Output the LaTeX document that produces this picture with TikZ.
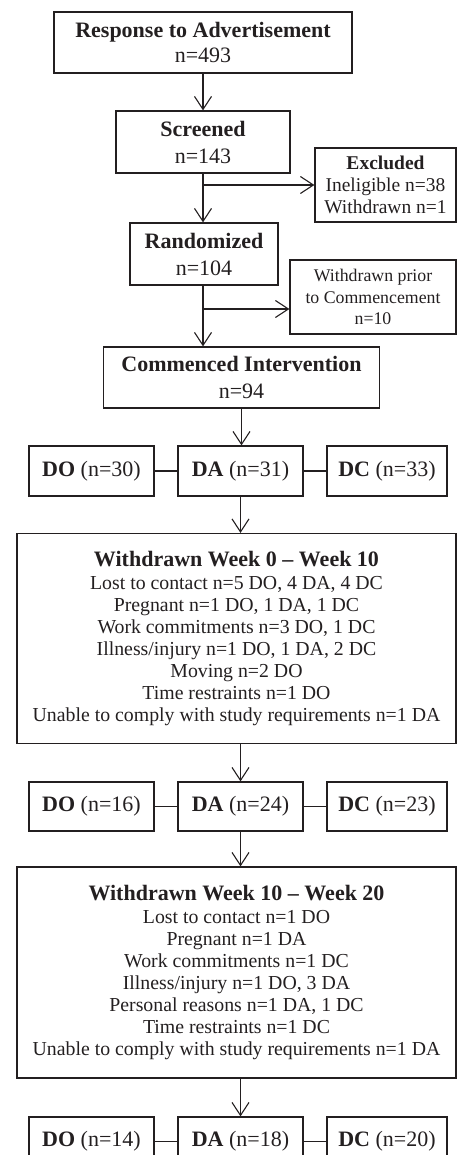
\documentclass[tikz,border=0pt]{standalone}
\usepackage{fontspec}
\setmainfont{Liberation Serif}
\usetikzlibrary{arrows.meta,calc}
\definecolor{ink}{HTML}{231F20}
\begin{document}
\begin{tikzpicture}[x=1pt,y=-1pt,
  every node/.style={text=ink},
  box/.style={draw=ink, line width=1.2pt, inner sep=0pt, align=center},
  mainbox/.style={box, font=\fontsize{22}{27}\selectfont},
  sidebox/.style={box, font=\fontsize{19.5}{22}\selectfont},
  listbox/.style={box, font=\fontsize{19.8}{22}\selectfont},
  arr/.style={draw=ink, line width=1.1pt, -{Straight Barb[length=13pt,width=17pt,line width=1.1pt]}},
  link/.style={draw=ink, line width=1.1pt}]
\useasboundingbox (0,0) rectangle (457,1155);
\clip (0,0) rectangle (457,1155);

\node[mainbox, minimum width=298pt, minimum height=61pt] (resp) at (203,42.5)
  {\textbf{Response to Advertisement}\\[-2pt] n=493};
\node[mainbox, minimum width=174pt, minimum height=62pt] (scr) at (203,142)
  {\textbf{Screened}\\ n=143};
\node[sidebox, minimum width=141pt, minimum height=74pt] (excl) at (385.5,185)
  {\textbf{Excluded}\\ Ineligible n=38\\ Withdrawn n=1};
\node[mainbox, minimum width=148pt, minimum height=62pt] (rand) at (204,254)
  {\textbf{Randomized}\\ n=104};
\node[sidebox, minimum width=166pt, minimum height=74pt, font=\fontsize{17.8}{21.5}\selectfont] (wpr) at (373,297)
  {Withdrawn prior\\ to Commencement\\ n=10};
\node[mainbox, minimum width=276pt, minimum height=61pt] (comm) at (241.5,377.5)
  {\textbf{Commenced Intervention}\\ n=94};

% row 1
\node[mainbox, minimum width=125pt, minimum height=50pt] (do1) at (91.5,471) {\textbf{DO} (n=30)};
\node[mainbox, minimum width=125pt, minimum height=50pt] (da1) at (240.5,471) {\textbf{DA} (n=31)};
\node[mainbox, minimum width=120pt, minimum height=50pt] (dc1) at (387,471) {\textbf{DC} (n=33)};

\node[listbox, minimum width=439pt, minimum height=210pt] (w1) at (236.5,638.5)
  {{\fontsize{22}{24}\selectfont\bfseries Withdrawn Week 0 – Week 10}\\[1pt]
   Lost to contact n=5 DO, 4 DA, 4 DC\\
   Pregnant n=1 DO, 1 DA, 1 DC\\
   Work commitments n=3 DO, 1 DC\\
   Illness/injury n=1 DO, 1 DA, 2 DC\\
   Moving n=2 DO\\
   Time restraints n=1 DO\\
   Unable to comply with study requirements n=1 DA};

% row 2
\node[mainbox, minimum width=125pt, minimum height=49pt] (do2) at (91.5,806.5) {\textbf{DO} (n=16)};
\node[mainbox, minimum width=125pt, minimum height=49pt] (da2) at (240.5,806.5) {\textbf{DA} (n=24)};
\node[mainbox, minimum width=120pt, minimum height=49pt] (dc2) at (387,806.5) {\textbf{DC} (n=23)};

\node[listbox, minimum width=439pt, minimum height=211pt] (w2) at (236.5,972.5)
  {{\fontsize{22}{24}\selectfont\bfseries Withdrawn Week 10 – Week 20}\\[1pt]
   Lost to contact n=1 DO\\
   Pregnant n=1 DA\\
   Work commitments n=1 DC\\
   Illness/injury n=1 DO, 3 DA\\
   Personal reasons n=1 DA, 1 DC\\
   Time restraints n=1 DC\\
   Unable to comply with study requirements n=1 DA};

% row 3
\node[mainbox, minimum width=125pt, minimum height=49pt] (do3) at (91.5,1141.5) {\textbf{DO} (n=14)};
\node[mainbox, minimum width=125pt, minimum height=49pt] (da3) at (240.5,1141.5) {\textbf{DA} (n=18)};
\node[mainbox, minimum width=120pt, minimum height=49pt] (dc3) at (387,1141.5) {\textbf{DC} (n=20)};

% connectors
\draw[arr] (resp.south) -- (resp.south |- scr.north);
\draw[arr] (scr.south) -- (scr.south |- rand.north);
\draw[arr] (scr.south |- excl.west) -- (excl.west);
\draw[arr] (rand.south -| scr.south) -- (scr.south |- comm.north);
\coordinate (b2) at (203,309);
\draw[arr] (b2) -- (b2 -| wpr.west);
\draw[arr] (comm.south) -- (comm.south |- da1.north);
\draw[link] (do1.east) -- (da1.west);
\draw[link] (da1.east) -- (dc1.west);
\draw[arr] (da1.south) -- (da1.south |- w1.north);
\draw[arr] (w1.south -| da1.south) -- (da2.north);
\draw[link] (do2.east) -- (da2.west);
\draw[link] (da2.east) -- (dc2.west);
\draw[arr] (da2.south) -- (da2.south |- w2.north);
\draw[arr] (w2.south -| da2.south) -- (da3.north);
\draw[link] (do3.east) -- (da3.west);
\draw[link] (da3.east) -- (dc3.west);
\end{tikzpicture}
\end{document}
